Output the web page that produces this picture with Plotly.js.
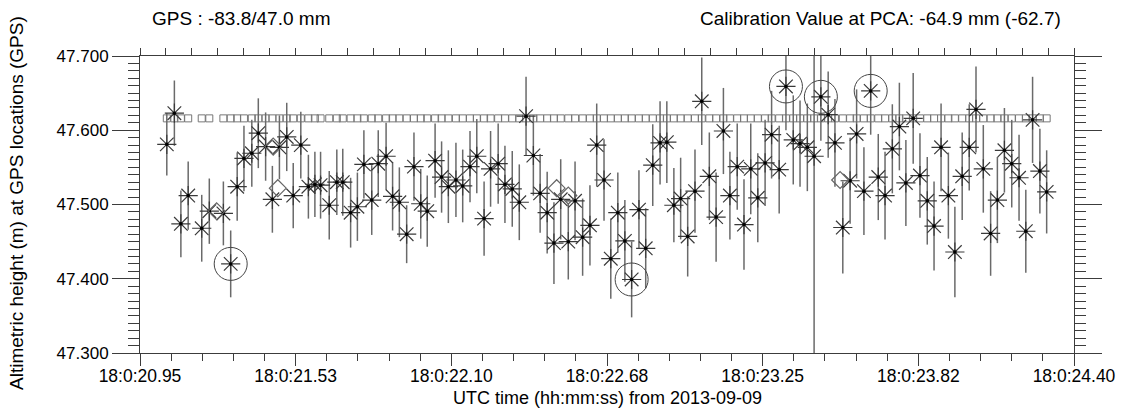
<!DOCTYPE html>
<html>
<head>
<meta charset="utf-8">
<script src="https://cdn.plot.ly/plotly-3.0.1.min.js"></script>
<style>
html,body{margin:0;padding:0;background:#fff;}
#chart{width:1123px;height:411px;}
</style>
</head>
<body>
<div id="chart"></div>
<script>
// ---- Data (times in seconds after 18:00:00 UTC, 2013-09-09) ----
const times = [
  21.049, 21.077, 21.101, 21.128, 21.178, 21.206, 21.258, 21.285, 21.309, 21.334,
  21.363, 21.387, 21.414, 21.439, 21.465, 21.492, 21.516, 21.544, 21.572, 21.596,
  21.617, 21.649, 21.677, 21.699, 21.728, 21.753, 21.777, 21.806, 21.830, 21.859,
  21.883, 21.908, 21.935, 21.962, 21.987, 22.011, 22.040, 22.064, 22.089, 22.117,
  22.142, 22.169, 22.194, 22.221, 22.245, 22.273, 22.298, 22.325, 22.351, 22.376,
  22.403, 22.428, 22.454, 22.479, 22.504, 22.532, 22.557, 22.585, 22.612, 22.637,
  22.664, 22.689, 22.715, 22.741, 22.766, 22.793, 22.818, 22.844, 22.871, 22.896,
  22.922, 22.947, 22.973, 23.000, 23.025, 23.053, 23.078, 23.105, 23.129, 23.156,
  23.181, 23.206, 23.232, 23.259, 23.283, 23.311, 23.336, 23.363, 23.388, 23.415,
  23.440, 23.465, 23.492, 23.517, 23.546, 23.573, 23.597, 23.624, 23.649, 23.677,
  23.702, 23.729, 23.755, 23.779, 23.806, 23.831, 23.858, 23.883, 23.909, 23.936,
  23.960, 23.987, 24.013, 24.038, 24.065, 24.092, 24.117, 24.143, 24.170, 24.197,
  24.222, 24.247, 24.274, 24.299
];
const heights = [
  47.581, 47.623, 47.474, 47.512, 47.468, 47.491, 47.488, 47.420, 47.524, 47.562,
  47.569, 47.596, 47.578, 47.507, 47.577, 47.591, 47.512, 47.580, 47.524, 47.527,
  47.526, 47.499, 47.530, 47.530, 47.489, 47.497, 47.554, 47.506, 47.555, 47.565,
  47.511, 47.503, 47.460, 47.551, 47.501, 47.491, 47.559, 47.537, 47.524, 47.533,
  47.525, 47.551, 47.565, 47.481, 47.548, 47.555, 47.527, 47.521, 47.503, 47.619,
  47.566, 47.515, 47.489, 47.448, 47.507, 47.450, 47.505, 47.456, 47.472, 47.580,
  47.533, 47.427, 47.489, 47.451, 47.399, 47.493, 47.441, 47.553, 47.583, 47.584,
  47.499, 47.508, 47.457, 47.518, 47.639, 47.538, 47.483, 47.599, 47.512, 47.551,
  47.473, 47.548, 47.509, 47.556, 47.594, 47.547, 47.659, 47.587, 47.582, 47.577,
  47.565, 47.645, 47.621, 47.583, 47.469, 47.532, 47.595, 47.518, 47.653, 47.537,
  47.512, 47.575, 47.605, 47.529, 47.616, 47.539, 47.505, 47.471, 47.577, 47.512,
  47.436, 47.538, 47.577, 47.628, 47.548, 47.461, 47.506, 47.573, 47.555, 47.536,
  47.464, 47.614, 47.545, 47.517
];
const heightErr = [
  0.042, 0.044, 0.045, 0.046, 0.045, 0.044, 0.043, 0.045, 0.046, 0.044,
  0.045, 0.047, 0.046, 0.045, 0.043, 0.046, 0.044, 0.045, 0.043, 0.044,
  0.045, 0.046, 0.044, 0.045, 0.047, 0.046, 0.046, 0.047, 0.045, 0.045,
  0.046, 0.047, 0.039, 0.046, 0.047, 0.048, 0.050, 0.048, 0.049, 0.050,
  0.049, 0.048, 0.050, 0.050, 0.051, 0.054, 0.052, 0.051, 0.051, 0.053,
  0.054, 0.053, 0.055, 0.055, 0.054, 0.051, 0.053, 0.052, 0.054, 0.056,
  0.055, 0.054, 0.054, 0.055, 0.051, 0.053, 0.054, 0.055, 0.056, 0.055,
  0.050, 0.055, 0.054, 0.056, 0.059, 0.059, 0.060, 0.058, 0.059, 0.058,
  0.061, 0.061, 0.060, 0.058, 0.059, 0.059, 0.059, 0.060, 0.058, 0.059,
  0.300, 0.059, 0.058, 0.059, 0.062, 0.058, 0.060, 0.059, 0.059, 0.058,
  0.059, 0.060, 0.059, 0.058, 0.061, 0.057, 0.059, 0.060, 0.059, 0.058,
  0.061, 0.059, 0.058, 0.058, 0.059, 0.057, 0.058, 0.057, 0.059, 0.058,
  0.056, 0.058, 0.057, 0.056
];
// GPS reference height (constant level at each sample time)
const gpsLevel = 47.616;
// Secondary (diamond) samples
const diamondTimes = [21.233, 21.442, 21.459, 22.489, 22.532, 23.536];
const diamondHeights = [47.491, 47.578, 47.522, 47.522, 47.512, 47.533];
// Samples highlighted with a circle (indices into times/heights)
const circledIdx = [7, 64, 86, 91, 98];
// Axis ticks
const xTickVals = [20.95, 21.525, 22.10, 22.675, 23.25, 23.825, 24.40];
const xTickText = ['18:0:20.95', '18:0:21.53', '18:0:22.10', '18:0:22.68', '18:0:23.25', '18:0:23.82', '18:0:24.40'];
const yTickVals = [47.3, 47.4, 47.5, 47.6, 47.7];
const yTickText = ['47.300', '47.400', '47.500', '47.600', '47.700'];

const FONT = '"Liberation Sans", Arial, Helvetica, sans-serif';
const AX = '#3c3c3c';

const traces = [
  {
    x: times, y: times.map(() => gpsLevel), type: 'scatter', mode: 'markers',
    marker: {symbol: 'square-open', size: 7, color: '#777', line: {color: '#777', width: 1}},
    hoverinfo: 'skip', showlegend: false
  },
  {
    x: times, y: heights, type: 'scatter', mode: 'markers',
    error_y: {type: 'data', array: heightErr, visible: true, color: '#6a6a6a', thickness: 1.5, width: 0},
    marker: {symbol: 'asterisk-open', size: 16, color: '#3a3a3a', line: {color: '#3a3a3a', width: 1.2}},
    showlegend: false
  },
  {
    x: times, y: heights, type: 'scatter', mode: 'markers',
    marker: {symbol: 'circle', size: 3.5, color: '#000'},
    hoverinfo: 'skip', showlegend: false
  },
  {
    x: diamondTimes, y: diamondHeights, type: 'scatter', mode: 'markers',
    marker: {symbol: 'diamond-open', size: 13, color: '#666', line: {color: '#666', width: 1.2}},
    showlegend: false
  },
  {
    x: circledIdx.map(i => times[i]), y: circledIdx.map(i => heights[i]), type: 'scatter', mode: 'markers',
    marker: {symbol: 'circle-open', size: 33, color: '#444', line: {color: '#444', width: 1}},
    hoverinfo: 'skip', showlegend: false
  },
  {
    x: [xTickVals[0]], y: [yTickVals[0]], xaxis: 'x2', type: 'scatter', mode: 'markers',
    marker: {opacity: 0}, hoverinfo: 'skip', showlegend: false
  }
];

const annotations = [
  {text: 'GPS : -83.8/47.0 mm', xref: 'paper', yref: 'paper', x: 0.0107, y: 1.1246,
   xanchor: 'left', yanchor: 'middle', showarrow: false, font: {family: FONT, size: 19, color: '#000'}},
  {text: 'Calibration Value at PCA: -64.9 mm (-62.7)', xref: 'paper', yref: 'paper', x: 0.988, y: 1.1246,
   xanchor: 'right', yanchor: 'middle', showarrow: false, font: {family: FONT, size: 19, color: '#000'}},
  {text: 'Altimetric height (m) at GPS locations (GPS)', xref: 'paper', yref: 'paper', x: -0.1328, y: 0.505,
   xanchor: 'center', yanchor: 'middle', textangle: -90, showarrow: false, font: {family: FONT, size: 19, color: '#000'}},
  {text: 'UTC time (hh:mm:ss) from 2013-09-09', xref: 'paper', yref: 'paper', x: 0.5, y: -0.152,
   xanchor: 'center', yanchor: 'middle', showarrow: false, font: {family: FONT, size: 18, color: '#000'}}
];
if (times.length !== heights.length || times.length !== heightErr.length) {
  annotations.push({text: 'LEN MISMATCH ' + times.length + '/' + heights.length + '/' + heightErr.length,
    xref: 'paper', yref: 'paper', x: 0.5, y: 0.1, showarrow: false, font: {size: 20, color: 'red'}});
}

const layout = {
  width: 1123, height: 411,
  margin: {l: 140, r: 49, t: 56, b: 58, pad: 0},
  paper_bgcolor: '#fff', plot_bgcolor: '#fff',
  font: {family: FONT, size: 17, color: '#000'},
  showlegend: false,
  xaxis: {
    range: [20.95, 24.40], tickmode: 'array', tickvals: xTickVals, ticktext: xTickText,
    ticks: 'outside', ticklen: 12, tickwidth: 1, tickcolor: AX, ticklabelstandoff: -5,
    minor: {dtick: 0.115, tick0: 20.95, ticks: 'outside', ticklen: 7, tickcolor: AX, tickwidth: 1, showgrid: false},
    showline: true, linecolor: AX, linewidth: 1, mirror: true,
    showgrid: false, zeroline: false, tickfont: {family: FONT, size: 17.5, color: '#000'}
  },
  xaxis2: {
    overlaying: 'x', side: 'top', anchor: 'y', range: [20.95, 24.40],
    tick0: 20.95, dtick: 0.095833, ticks: 'outside', ticklen: 7, tickwidth: 1, tickcolor: AX,
    showticklabels: false, showline: false, showgrid: false, zeroline: false
  },
  yaxis: {
    range: [47.3, 47.7], tickmode: 'array', tickvals: yTickVals, ticktext: yTickText,
    ticks: 'outside', ticklen: 27, tickwidth: 1, tickcolor: AX,
    minor: {dtick: 0.01, tick0: 47.3, ticks: 'outside', ticklen: 11, tickcolor: AX, tickwidth: 1, showgrid: false},
    showline: true, linecolor: AX, linewidth: 1, mirror: 'ticks',
    showgrid: false, zeroline: false, tickfont: {family: FONT, size: 17, color: '#000'}
  },
  annotations: annotations
};

Plotly.newPlot('chart', traces, layout, {staticPlot: true, displayModeBar: false});
</script>
</body>
</html>
